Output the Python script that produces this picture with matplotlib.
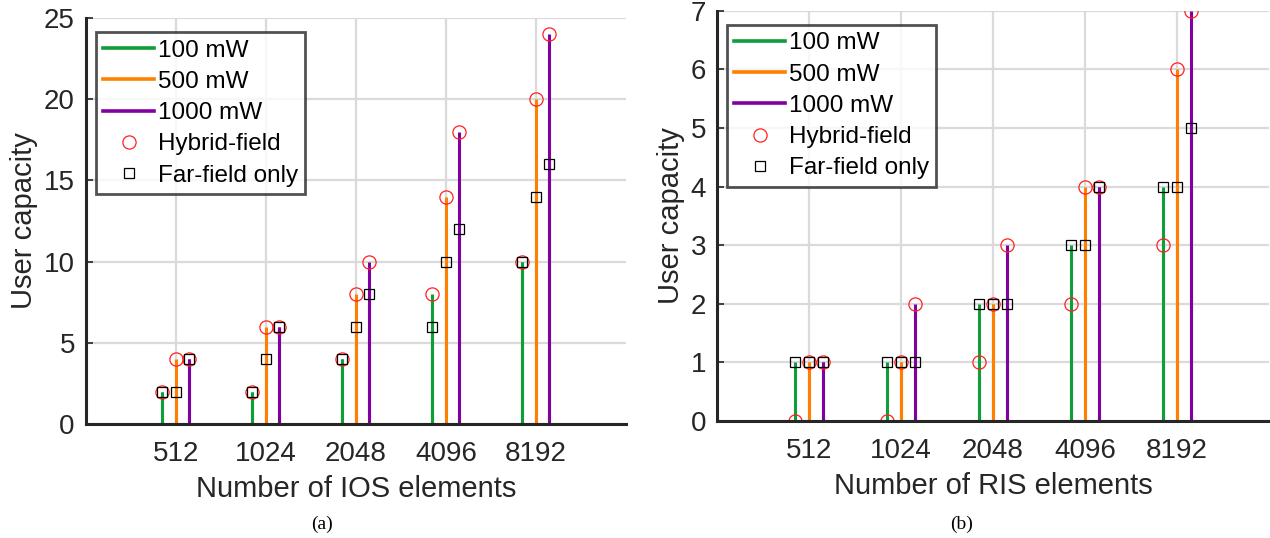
import numpy as np
import matplotlib
matplotlib.use("Agg")
import matplotlib.pyplot as plt
from matplotlib.lines import Line2D

plt.rcParams['font.family'] = ['Liberation Sans', 'DejaVu Sans']

# data
elements = ['512', '1024', '2048', '4096', '8192']
powers = ['100 mW', '500 mW', '1000 mW']

# (a) IOS
ios_hybrid = [[2, 2, 4, 8, 10],
              [4, 6, 8, 14, 20],
              [4, 6, 10, 18, 24]]
ios_far = [[2, 2, 4, 6, 10],
           [2, 4, 6, 10, 14],
           [4, 6, 8, 12, 16]]

# (b) RIS
ris_hybrid = [[0, 0, 1, 2, 3],
              [1, 1, 2, 4, 6],
              [1, 2, 3, 4, 7]]
ris_far = [[1, 1, 2, 3, 4],
           [1, 1, 2, 3, 4],
           [1, 1, 2, 4, 5]]

colors = ['#109d3a', '#ff8000', '#8000a0']
offsets = [-0.15, 0.0, 0.15]
txt = '#262626'


def draw(ax, hybrid, far, ylim, yticks, xlabel):
    x = np.arange(1, len(elements) + 1)
    for k in range(3):
        xs = x + offsets[k]
        ax.vlines(xs, 0, hybrid[k], color=colors[k], lw=2.2, zorder=3)
        ax.vlines(xs, 0, far[k], color=colors[k], lw=2.2, zorder=3)
        ax.plot(xs, hybrid[k], 'o', ms=9.5, mfc='none', mec='#ff2020',
                mew=0.9, zorder=4)
        ax.plot(xs, far[k], 's', ms=7.2, mfc='none', mec='black',
                mew=0.9, zorder=4)
    ax.set_xlim(0, 6)
    ax.set_ylim(*ylim)
    ax.set_xticks(x)
    ax.set_xticklabels(elements)
    ax.set_yticks(yticks)
    ax.grid(True, color='#dadada', lw=1.6)
    ax.set_axisbelow(True)
    for s in ['top', 'right']:
        ax.spines[s].set_visible(False)
    for s in ['left', 'bottom']:
        ax.spines[s].set_linewidth(2.2)
        ax.spines[s].set_color(txt)
        ax.spines[s].set_zorder(5)
    ax.tick_params(direction='in', length=5, width=1.2, colors=txt,
                   labelsize=20, labelcolor=txt)
    ax.tick_params(axis='x', pad=12)
    ax.tick_params(axis='y', pad=8)
    ax.set_xlabel(xlabel, fontsize=21, color=txt, labelpad=6)
    ax.set_ylabel('User capacity', fontsize=21, color=txt, labelpad=4)

    handles = [Line2D([], [], color=c, lw=2.6) for c in colors]
    handles += [Line2D([], [], ls='none', marker='o', ms=9.5, mfc='none',
                       mec='#ff2020', mew=0.9),
                Line2D([], [], ls='none', marker='s', ms=7.2, mfc='none',
                       mec='black', mew=0.9)]
    labels = powers + ['Hybrid-field', 'Far-field only']
    leg = ax.legend(handles, labels, loc='upper left',
                    bbox_to_anchor=(0.018, 0.965), fontsize=17.5,
                    frameon=True, fancybox=False, handlelength=2.1,
                    handletextpad=0.15, labelspacing=0.38, borderpad=0.3,
                    borderaxespad=0.0)
    leg.get_frame().set_edgecolor(txt)
    leg.get_frame().set_linewidth(2.0)
    leg.set_zorder(10)
    for t in leg.get_texts():
        t.set_color('black')


fig = plt.figure(figsize=(12.7, 5.38), dpi=100)
ax1 = fig.add_axes([0.0677, 0.2119, 0.4252, 0.7546])
ax2 = fig.add_axes([0.5646, 0.2175, 0.4346, 0.7625])

draw(ax1, ios_hybrid, ios_far, (0, 25), range(0, 26, 5),
     'Number of IOS elements')
draw(ax2, ris_hybrid, ris_far, (0, 7), range(0, 8),
     'Number of RIS elements')

fig.text(0.2535, 0.01, '(a)', ha='center', va='bottom',
         family='Liberation Serif', fontsize=14)
fig.text(0.757, 0.01, '(b)', ha='center', va='bottom',
         family='Liberation Serif', fontsize=14)

fig.savefig('out.png', dpi=100)
